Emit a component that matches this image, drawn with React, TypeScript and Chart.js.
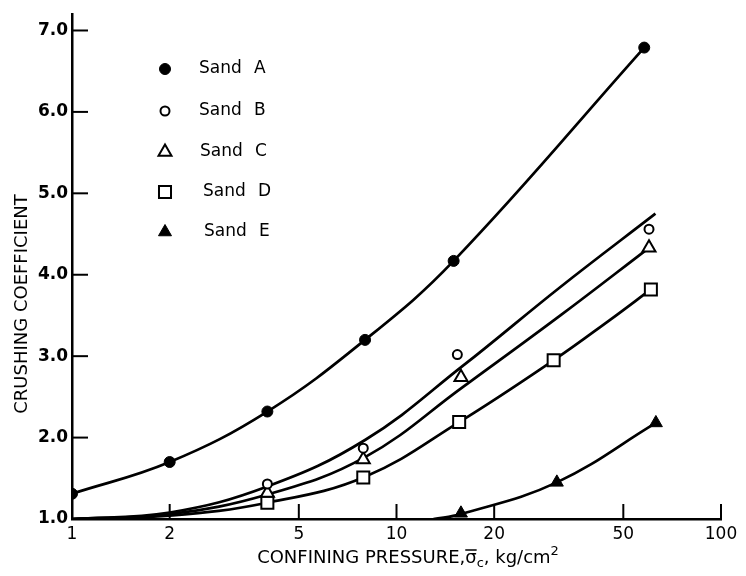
import React, { useEffect, useRef } from 'react';
import { Chart, registerables } from 'chart.js';

Chart.register(...registerables);

// ---------- data ----------
const xTickValues = [1, 2, 5, 10, 20, 50, 100];
const yTickValues = [1, 2, 3, 4, 5, 6, 7];

const sandNames = ['Sand A', 'Sand B', 'Sand C', 'Sand D', 'Sand E'];

// measured points
const sandAX = [1, 2, 4, 8, 15, 58];
const sandAY = [1.31, 1.7, 2.32, 3.2, 4.17, 6.79];
const sandBX = [4, 7.9, 15.4, 60];
const sandBY = [1.43, 1.87, 3.02, 4.56];
const sandCX = [4, 7.9, 15.8, 60];
const sandCY = [1.32, 1.73, 2.74, 4.33];
const sandDX = [4, 7.9, 15.6, 30.5, 60.8];
const sandDY = [1.2, 1.51, 2.19, 2.95, 3.82];
const sandEX = [15.8, 31.2, 63];
const sandEY = [1.07, 1.45, 2.18];

// fitted curves
const curveAX = [1, 2, 4, 8, 15, 58];
const curveAY = [1.31, 1.7, 2.32, 3.2, 4.17, 6.79];
const curveBX = [1, 2, 4, 8, 16, 32, 62.8];
const curveBY = [1.0, 1.08, 1.4, 1.97, 2.88, 3.85, 4.75];
const curveCX = [1, 2, 4, 8, 16, 32, 60];
const curveCY = [1.0, 1.06, 1.3, 1.76, 2.62, 3.5, 4.33];
const curveDX = [1, 2, 4, 8, 15.6, 30.5, 45.3, 60.8];
const curveDY = [1.0, 1.04, 1.2, 1.52, 2.19, 2.95, 3.44, 3.82];
const curveEX = [13, 15.8, 31.2, 63];
const curveEY = [1.0, 1.06, 1.45, 2.18];

const yTitle = 'CRUSHING COEFFICIENT';
const xTitleParts = ['CONFINING PRESSURE,', 'σ', 'c', ', kg/cm', '2'];

// ---------- styling ----------
const FONT = '"DejaVu Sans", sans-serif';
type Marker = { style: string; radius: number; fill: string; border: number };
const markers: Marker[] = [
  { style: 'circle', radius: 5.5, fill: '#000', border: 1 },
  { style: 'circle', radius: 4.5, fill: '#fff', border: 2 },
  { style: 'triangle', radius: 7.5, fill: '#fff', border: 2 },
  { style: 'rect', radius: 8.5, fill: '#fff', border: 2 },
  { style: 'triangle', radius: 7.5, fill: '#000', border: 1 },
];

const zip = (xs: number[], ys: number[]) => xs.map((x, i) => ({ x, y: ys[i] }));

function drawMarker(ctx: CanvasRenderingContext2D, m: Marker, x: number, y: number) {
  ctx.save();
  ctx.beginPath();
  ctx.fillStyle = m.fill;
  ctx.strokeStyle = '#000';
  ctx.lineWidth = m.border;
  const r = m.radius;
  if (m.style === 'circle') {
    ctx.arc(x, y, r, 0, Math.PI * 2);
  } else if (m.style === 'triangle') {
    ctx.moveTo(x, y - r);
    ctx.lineTo(x + r * Math.sin(Math.PI * 2 / 3), y + r * 0.5);
    ctx.lineTo(x - r * Math.sin(Math.PI * 2 / 3), y + r * 0.5);
    ctx.closePath();
  } else {
    const s = r * Math.SQRT1_2;
    ctx.rect(x - s, y - s, 2 * s, 2 * s);
  }
  ctx.fill();
  ctx.stroke();
  ctx.restore();
}

const overlayPlugin = {
  id: 'overlay',
  afterDraw(chart: any) {
    const ctx: CanvasRenderingContext2D = chart.ctx;
    const { left, bottom } = chart.chartArea;
    const xs = chart.scales.x;
    const ys = chart.scales.y;
    ctx.save();
    ctx.strokeStyle = '#000';
    ctx.lineWidth = 2;
    // inward tick marks
    yTickValues.slice(1).forEach((v) => {
      const py = ys.getPixelForValue(v);
      ctx.beginPath();
      ctx.moveTo(left, py);
      ctx.lineTo(left + 16, py);
      ctx.stroke();
    });
    xTickValues.slice(1).forEach((v) => {
      const px = xs.getPixelForValue(v);
      ctx.beginPath();
      ctx.moveTo(px, bottom);
      ctx.lineTo(px, bottom - 15);
      ctx.stroke();
    });

    // legend
    const legendY = [69, 111, 152, 192, 232];
    const legendTextX = [199, 199, 200, 203, 204];
    ctx.fillStyle = '#000';
    ctx.font = `17px ${FONT}`;
    ctx.textBaseline = 'middle';
    ctx.textAlign = 'left';
    sandNames.forEach((name, i) => {
      drawMarker(ctx, markers[i], 165, legendY[i]);
      const [w1, w2] = name.split(' ');
      ctx.fillText(w1, legendTextX[i], legendY[i]);
      ctx.fillText(w2, legendTextX[i] + 55, legendY[i]);
    });

    // y title
    ctx.save();
    ctx.translate(22, 304);
    ctx.rotate(-Math.PI / 2);
    ctx.font = `18px ${FONT}`;
    ctx.textAlign = 'center';
    ctx.textBaseline = 'middle';
    ctx.fillText(yTitle, 0, 0);
    ctx.restore();

    // x title with subscript / superscript
    const mainF = `18px ${FONT}`;
    const smallF = `13px ${FONT}`;
    const fonts = [mainF, mainF, smallF, mainF, smallF];
    const dys = [0, 0, 4, 0, -8];
    const widths = xTitleParts.map((t, i) => {
      ctx.font = fonts[i];
      return ctx.measureText(t).width;
    });
    const total = widths.reduce((a, b) => a + b, 0);
    let cx = 408 - total / 2;
    const base = 563;
    ctx.textAlign = 'left';
    ctx.textBaseline = 'alphabetic';
    xTitleParts.forEach((t, i) => {
      ctx.font = fonts[i];
      ctx.fillText(t, cx, base + dys[i]);
      if (i === 1) {
        ctx.lineWidth = 1.5;
        ctx.beginPath();
        ctx.moveTo(cx, base - 13);
        ctx.lineTo(cx + widths[i], base - 13);
        ctx.stroke();
      }
      cx += widths[i];
    });
    ctx.restore();
  },
};

export default function App() {
  const ref = useRef<HTMLCanvasElement | null>(null);

  useEffect(() => {
    document.body.style.margin = '0';
    if (!ref.current) return;

    const pointSets = [
      zip(sandAX, sandAY),
      zip(sandBX, sandBY),
      zip(sandCX, sandCY),
      zip(sandDX, sandDY),
      zip(sandEX, sandEY),
    ];
    const curveSets = [
      zip(curveAX, curveAY),
      zip(curveBX, curveBY),
      zip(curveCX, curveCY),
      zip(curveDX, curveDY),
      zip(curveEX, curveEY),
    ];

    const pointDatasets = pointSets.map((data, i) => ({
      type: 'scatter' as const,
      label: sandNames[i],
      data,
      showLine: false,
      pointStyle: markers[i].style,
      pointRadius: markers[i].radius,
      pointBackgroundColor: markers[i].fill,
      pointBorderColor: '#000',
      pointBorderWidth: markers[i].border,
      order: 0,
    }));
    const curveDatasets = curveSets.map((data, i) => ({
      type: 'line' as const,
      label: sandNames[i] + ' curve',
      data,
      borderColor: '#000',
      borderWidth: 2.7,
      pointRadius: 0,
      fill: false,
      tension: 0.4,
      order: 1,
    }));

    const chart = new Chart(ref.current, {
      type: 'scatter',
      data: { datasets: [...pointDatasets, ...curveDatasets] as any },
      options: {
        animation: false,
        responsive: false,
        layout: { padding: { top: 13, right: 25, left: 0, bottom: 0 } },
        plugins: { legend: { display: false }, tooltip: { enabled: false } },
        scales: {
          x: {
            type: 'logarithmic',
            min: 1,
            max: 100,
            afterBuildTicks: (s: any) => {
              s.ticks = xTickValues.map((v) => ({ value: v }));
            },
            afterFit: (s: any) => {
              s.height = 57;
            },
            ticks: {
              callback: (v: any) => String(v),
              color: '#000',
              font: { family: FONT, size: 17 },
              padding: 5,
              maxRotation: 0,
              autoSkip: false,
            },
            grid: { display: true, drawOnChartArea: false, drawTicks: false },
            border: { display: true, color: '#000', width: 2.5 },
          },
          y: {
            type: 'linear',
            min: 1,
            max: 7.2,
            afterBuildTicks: (s: any) => {
              s.ticks = yTickValues.map((v) => ({ value: v }));
            },
            afterFit: (s: any) => {
              s.width = 72;
            },
            ticks: {
              callback: (v: any) => Number(v).toFixed(1),
              color: '#000',
              font: { family: FONT, size: 17, weight: 'bold' },
              padding: 4,
            },
            grid: { display: true, drawOnChartArea: false, drawTicks: false },
            border: { display: true, color: '#000', width: 2.5 },
          },
        },
      },
      plugins: [overlayPlugin],
    });

    return () => chart.destroy();
  }, []);

  return (
    <div style={{ width: 746, height: 576 }}>
      <canvas ref={ref} width={746} height={576} />
    </div>
  );
}
